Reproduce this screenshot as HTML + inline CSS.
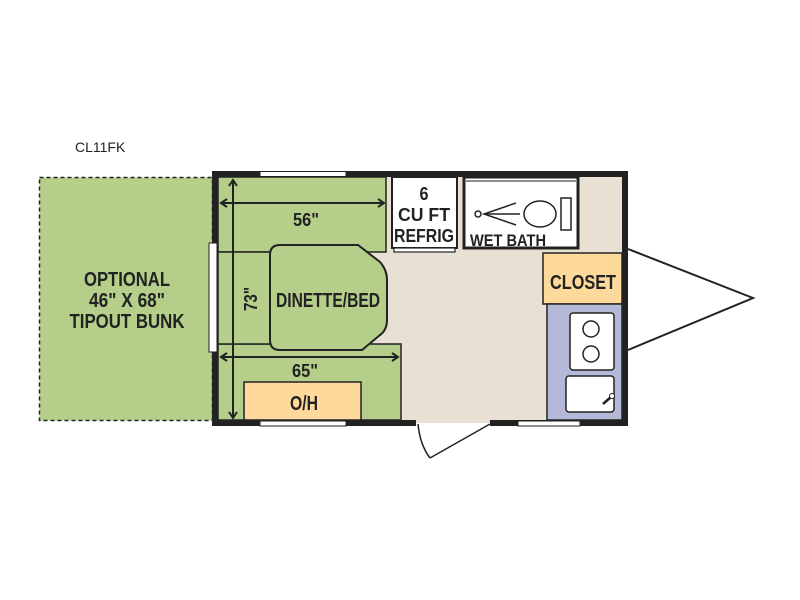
<!DOCTYPE html>
<html><head><style>body{margin:0;background:#fff}svg{display:block}</style></head><body>
<svg width="800" height="600" viewBox="0 0 800 600" xmlns="http://www.w3.org/2000/svg" font-family="Liberation Sans, sans-serif">
<text x="75" y="152" font-size="14" fill="#222">CL11FK</text>
<rect x="39.5" y="177.5" width="173" height="243" fill="#b5cf8a" stroke="#222" stroke-width="1.5" stroke-dasharray="4,3"/>
<g font-weight="bold" font-size="20" fill="#222" text-anchor="middle">
<text x="127" y="286" textLength="86" lengthAdjust="spacingAndGlyphs">OPTIONAL</text>
<text x="127" y="307" textLength="76" lengthAdjust="spacingAndGlyphs">46" X 68"</text>
<text x="127" y="328" textLength="115" lengthAdjust="spacingAndGlyphs">TIPOUT BUNK</text>
</g>
<rect x="215" y="174" width="410" height="249" fill="#e8e0d3"/>
<polyline points="628,249 753,298 628,350" fill="none" stroke="#222" stroke-width="2"/>
<rect x="218" y="177" width="168" height="75" fill="#b5cf8a" stroke="#222" stroke-width="1.5"/>
<rect x="218" y="344" width="183" height="76" fill="#b5cf8a" stroke="#222" stroke-width="1.5"/>
<rect x="218" y="252" width="55" height="92" fill="#b5cf8a" stroke="#222" stroke-width="1.5"/>
<path d="M280,245 H358 L380,262 Q387,270 387,280 V320 Q387,330 380,335 L362,350 H280 Q270,350 270,340 V255 Q270,245 280,245 Z" fill="#b5cf8a" stroke="#222" stroke-width="2"/>
<rect x="244" y="382" width="117" height="38" fill="#fdd99b" stroke="#222" stroke-width="1.5"/>
<g font-weight="bold" fill="#222" text-anchor="middle" font-size="20">
<text x="328" y="307" textLength="104" lengthAdjust="spacingAndGlyphs">DINETTE/BED</text>
<text x="304" y="410" textLength="28" lengthAdjust="spacingAndGlyphs">O/H</text>
<text x="306" y="226" font-size="18" textLength="26" lengthAdjust="spacingAndGlyphs">56"</text>
<text x="305" y="377" font-size="18" textLength="26" lengthAdjust="spacingAndGlyphs">65"</text>
<text transform="translate(257,299) rotate(-90)" font-size="18" textLength="24" lengthAdjust="spacingAndGlyphs">73"</text>
</g>
<g stroke="#222" stroke-width="2" fill="none">
<line x1="233" y1="181" x2="233" y2="417"/>
<polyline points="229,186 233,180 237,186"/>
<polyline points="229,412 233,418 237,412"/>
<line x1="221" y1="203" x2="384" y2="203"/>
<polyline points="227,199 221,203 227,207"/>
<polyline points="378,199 384,203 378,207"/>
<line x1="221" y1="357" x2="398" y2="357"/>
<polyline points="227,353 221,357 227,361"/>
<polyline points="392,353 398,357 392,361"/>
</g>
<rect x="392" y="177" width="65" height="71" fill="#fff" stroke="#222" stroke-width="2"/>
<rect x="394" y="248" width="61" height="4" fill="#fff" stroke="#222" stroke-width="1.2"/>
<g font-weight="bold" fill="#222" text-anchor="middle" font-size="18">
<text x="424" y="200" textLength="9" lengthAdjust="spacingAndGlyphs">6</text>
<text x="424" y="221" textLength="52" lengthAdjust="spacingAndGlyphs">CU FT</text>
<text x="424" y="242" textLength="60" lengthAdjust="spacingAndGlyphs">REFRIG</text>
</g>
<rect x="464" y="177" width="114" height="71" fill="#fff" stroke="#222" stroke-width="3"/>
<line x1="466" y1="181" x2="576" y2="181" stroke="#222" stroke-width="1"/>
<g stroke="#222" stroke-width="1.5" fill="none">
<circle cx="478" cy="214" r="3"/>
<polyline points="516,203 484,214 516,225"/>
<line x1="484" y1="214" x2="520" y2="214"/>
<ellipse cx="540" cy="214" rx="16" ry="13" fill="#fff"/>
<rect x="561" y="198" width="10" height="32" fill="#fff"/>
</g>
<text x="508" y="246" font-weight="bold" font-size="17" fill="#222" text-anchor="middle" textLength="76" lengthAdjust="spacingAndGlyphs">WET BATH</text>
<rect x="543" y="253" width="79" height="51" fill="#fdd99b" stroke="#222" stroke-width="1.5"/>
<text x="583" y="289" font-weight="bold" font-size="20" fill="#222" text-anchor="middle" textLength="66" lengthAdjust="spacingAndGlyphs">CLOSET</text>
<rect x="547" y="304" width="75" height="116" fill="#b3b9d6" stroke="#222" stroke-width="1.5"/>
<rect x="570" y="313" width="44" height="57" rx="3" fill="#fff" stroke="#222" stroke-width="1.5"/>
<circle cx="591" cy="329" r="8" fill="none" stroke="#222" stroke-width="1.5"/>
<circle cx="591" cy="354" r="8" fill="none" stroke="#222" stroke-width="1.5"/>
<rect x="566" y="376" width="48" height="36" rx="3" fill="#fff" stroke="#222" stroke-width="1.5"/>
<line x1="603" y1="404" x2="611" y2="397" stroke="#222" stroke-width="2.5"/>
<circle cx="612" cy="396" r="2.5" fill="#fff" stroke="#222" stroke-width="1"/>
<g fill="#222">
<rect x="212" y="171" width="416" height="6"/>
<rect x="212" y="171" width="6" height="255"/>
<rect x="622" y="171" width="6" height="255"/>
<rect x="212" y="420" width="204" height="6"/>
<rect x="490" y="420" width="138" height="6"/>
</g>
<g fill="#fff" stroke="#222" stroke-width="1">
<rect x="260" y="171.5" width="86" height="5"/>
<rect x="260" y="421" width="86" height="5"/>
<rect x="209" y="243" width="8" height="109"/>
<rect x="518" y="421" width="62" height="5"/>
</g>
<g stroke="#222" stroke-width="1.5" fill="none">
<line x1="490" y1="424" x2="430" y2="458"/>
<path d="M418,424 Q420,445 430,458"/>
</g>
</svg>
</body></html>
